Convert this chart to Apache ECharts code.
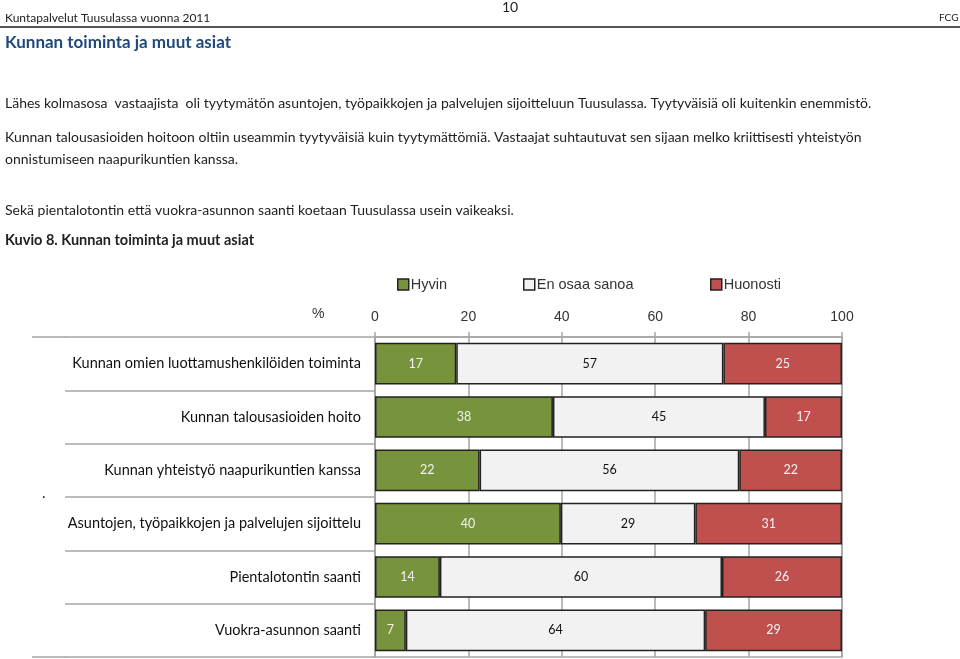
<!DOCTYPE html>
<html><head><meta charset="utf-8">
<script src="https://cdn.jsdelivr.net/npm/echarts@6/dist/echarts.min.js"></script>
<style>html,body{margin:0;padding:0;background:#fff}#c{width:960px;height:659px}</style>
</head><body><div id="c"></div>
<script>
const categories = [
  'Kunnan omien luottamushenkilöiden toiminta',
  'Kunnan talousasioiden hoito',
  'Kunnan yhteistyö naapurikuntien kanssa',
  'Asuntojen, työpaikkojen ja palvelujen sijoittelu',
  'Pientalotontin saanti',
  'Vuokra-asunnon saanti'
];
const hyvin = [17.4, 38.1, 22.4, 39.8, 13.9, 6.6];
const enOsaa = [57.2, 45.4, 55.6, 28.8, 60.4, 64.1];
const huonosti = [25.4, 16.5, 22.0, 31.4, 25.7, 29.3];
const seriesNames = ['Hyvin', 'En osaa sanoa', 'Huonosti'];
const tickValues = [0, 20, 40, 60, 80, 100];

const FONT = 'Lato';
const colors = ['#77933C', '#F2F2F2', '#C0504D'];
const labelColors = ['#F2F2F2', '#111', '#F2F2F2'];
const datas = [hyvin, enOsaa, huonosti];
const legendLefts = [392, 518, 705];

const chart = echarts.init(document.getElementById('c'));
const txt = (x, y, t, opts) => Object.assign({type: 'text', left: x, top: y, style: Object.assign({text: t, font: '14px ' + FONT, fill: '#222'}, opts || {})});

chart.setOption({
  animation: false,
  color: colors,
  legend: seriesNames.map((n, i) => ({
    top: 272, left: legendLefts[i],
    itemWidth: 11, itemHeight: 11,
    icon: 'rect',
    textStyle: {fontFamily: 'Liberation Sans', fontSize: 14.5, color: '#333', padding: [0, 0, 0, -3]},
    itemStyle: {borderColor: '#222', borderWidth: 1.5},
    data: [n]
  })),
  grid: {left: 375, right: 118, top: 337, height: 320, show: true, borderColor: '#A6A6A6', borderWidth: 1.5},
  xAxis: {
    type: 'value', position: 'top', min: 0, max: 100, interval: 20,
    axisLine: {show: true, lineStyle: {color: '#A6A6A6', width: 1.5}},
    axisTick: {show: true, length: 5, lineStyle: {color: '#A6A6A6', width: 1.5}},
    axisLabel: {margin: 13, fontFamily: 'Liberation Sans', fontSize: 14, color: '#333'},
    splitLine: {show: true, lineStyle: {color: '#A6A6A6', width: 1.5}}
  },
  yAxis: {
    type: 'category', inverse: true, data: categories,
    axisLine: {show: true, lineStyle: {color: '#A6A6A6', width: 1.5}},
    axisTick: {show: true, length: 310, lineStyle: {color: '#A6A6A6', width: 1.5}},
    axisLabel: {margin: 14, fontFamily: FONT, fontSize: 14.5, color: '#111'}
  },
  series: datas.map((d, i) => ({
    name: seriesNames[i], type: 'bar', stack: 'all', data: d,
    barCategoryGap: '22%',
    itemStyle: {color: colors[i], borderColor: '#222', borderWidth: 1.5},
    label: {show: true, position: 'inside', fontFamily: FONT, fontSize: 12.5, color: labelColors[i],
      formatter: p => Math.round(p.value)}
  })),
  graphic: [
    txt(5, 12, 'Kuntapalvelut Tuusulassa vuonna 2011', {font: '12px ' + FONT, fill: '#222'}),
    txt(502, 0, '10', {font: '14px ' + FONT, fill: '#222'}),
    txt(939, 13, 'FCG', {font: '10px ' + FONT, fill: '#222'}),
    {type: 'rect', shape: {x: 0, y: 26, width: 960, height: 2}, style: {fill: '#555'}},
    txt(5, 34, 'Kunnan toiminta ja muut asiat', {font: 'bold 17px ' + FONT, fill: '#1F497D'}),
    txt(5, 96, 'Lähes kolmasosa  vastaajista  oli tyytymätön asuntojen, työpaikkojen ja palvelujen sijoitteluun Tuusulassa. Tyytyväisiä oli kuitenkin enemmistö.'),
    txt(5, 130, 'Kunnan talousasioiden hoitoon oltiin useammin tyytyväisiä kuin tyytymättömiä. Vastaajat suhtautuvat sen sijaan melko kriittisesti yhteistyön'),
    txt(5, 152, 'onnistumiseen naapurikuntien kanssa.'),
    txt(5, 203, 'Sekä pientalotontin että vuokra-asunnon saanti koetaan Tuusulassa usein vaikeaksi.'),
    txt(5, 233, 'Kuvio 8. Kunnan toiminta ja muut asiat', {font: 'bold 14.5px ' + FONT, fill: '#222'}),
    txt(312, 307, '%', {font: '14px Liberation Sans', fill: '#333'}),
    txt(42, 486, '.', {font: '15px ' + FONT, fill: '#222'}),
    {type: 'line', shape: {x1: 32, y1: 337, x2: 66, y2: 337}, style: {stroke: '#A6A6A6', lineWidth: 1.5}},
    {type: 'line', shape: {x1: 32, y1: 657, x2: 66, y2: 657}, style: {stroke: '#A6A6A6', lineWidth: 1.5}}
  ]
});
</script></body></html>
